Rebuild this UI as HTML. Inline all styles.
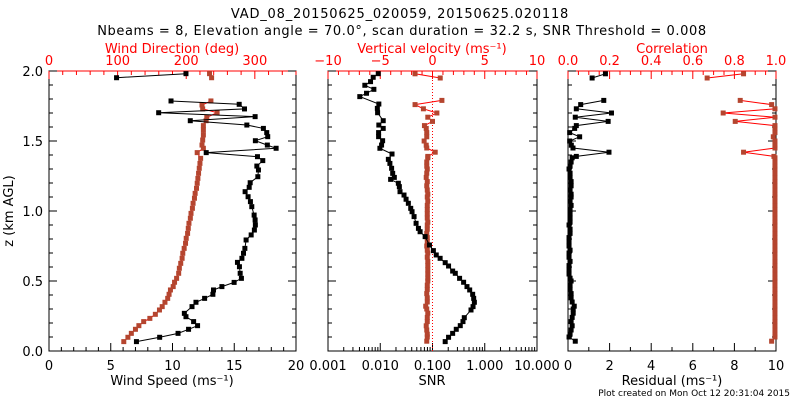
<!DOCTYPE html>
<html><head><meta charset="utf-8"><style>
body{margin:0;background:#fff;}
svg{display:block;font-family:"DejaVu Sans","Liberation Sans",sans-serif;}
</style></head><body>
<svg id="chart" width="800" height="400" viewBox="0 0 800 400" xmlns="http://www.w3.org/2000/svg">
<rect x="0" y="0" width="800" height="400" fill="#fff"/>
<text x="400" y="18" font-size="13" letter-spacing="0.8" text-anchor="middle">VAD_08_20150625_020059, 20150625.020118</text>
<text x="402" y="35" font-size="13" letter-spacing="0.6" text-anchor="middle">Nbeams = 8, Elevation angle = 70.0°, scan duration = 32.2 s, SNR Threshold = 0.008</text>
<text transform="translate(13,211) rotate(-90)" font-size="13" text-anchor="middle">z (km AGL)</text>
<text x="790" y="396" font-size="9" text-anchor="end">Plot created on Mon Oct 12 20:31:04 2015</text>
<g id="g"></g>
</svg>
<script>
// ---- data ----
var wsZ=[0.067,0.098,0.126,0.155,0.181,0.210,0.245,0.269,0.317,0.348,0.376,0.405,0.436,0.460,0.490,0.519,0.555,0.602,0.633,0.662,0.698,0.733,0.793,0.829,0.864,0.900,0.936,0.971,1.031,1.067,1.102,1.138,1.169,1.202,1.245,1.293,1.321,1.360,1.388,1.417,1.448,1.471,1.502,1.531,1.560,1.590,1.614,1.645,1.674,1.702,1.729,1.762,1.786,null,1.952,1.981];
var windSpeed=[7.08,8.96,10.45,11.30,12.03,11.71,11.09,10.96,11.58,11.90,12.60,13.27,13.32,14.0,14.99,15.58,15.48,15.42,15.26,15.62,15.75,15.86,15.96,16.37,16.63,16.71,16.69,16.61,16.42,16.31,16.12,15.88,16.21,16.29,16.91,16.96,16.83,17.31,16.88,12.73,18.39,17.68,16.71,17.71,17.63,17.36,16.02,11.44,16.69,8.88,15.83,15.40,9.88,null,5.47,11.09];
var wdZ=[0.067,0.098,0.126,0.155,0.181,0.210,0.233,0.262,0.293,0.317,0.348,0.376,0.405,0.436,0.460,0.491,0.519,0.555,0.591,0.626,0.662,0.698,0.733,0.769,0.805,0.840,0.876,0.912,0.948,0.983,1.019,1.055,1.091,1.126,1.162,1.198,1.233,1.269,1.305,1.340,1.376,1.417,1.448,1.471,1.507,1.543,1.579,1.610,1.645,1.669,1.702,1.729,1.757,1.786,null,1.952,1.981];
var windDir=[109,115,120,126,131,138,147,155,161,165,169,173,175,177,181,183,186,189,190,192,194,195,197,199,200,202,203,204,206,207,209,210,212,213,215,216,217,218,219,220,221,216,225,223,224,225,225,225,229,230,245,224,223,236,null,237,234];
var snrZ=[0.067,0.098,0.126,0.155,0.181,0.210,0.238,0.293,0.317,0.348,0.376,0.405,0.436,0.460,0.491,0.519,0.555,0.571,0.607,0.631,0.662,0.686,0.717,0.757,0.817,0.852,0.876,0.912,0.960,0.995,1.019,1.055,1.084,1.114,1.138,1.174,1.198,1.226,1.240,1.269,1.305,1.340,1.369,1.407,1.448,1.471,1.502,1.531,1.560,1.590,1.614,1.645,1.702,1.733,1.764,1.817,1.841,1.869,1.898,1.924,1.955,1.981];
var snr=[0.175,0.203,0.243,0.285,0.340,0.383,0.406,0.546,0.597,0.633,0.614,0.587,0.515,0.457,0.394,0.330,0.273,0.243,0.203,0.175,0.140,0.118,0.104,0.0875,0.0723,0.0579,0.0538,0.0485,0.0444,0.0406,0.0383,0.0345,0.0312,0.0285,0.0239,0.0232,0.0222,0.0158,0.0186,0.0173,0.0165,0.0153,0.0143,0.0168,0.00985,0.0106,0.0111,0.0093,0.0093,0.0114,0.0094,0.0114,0.0089,0.0088,0.0094,0.00406,0.00546,0.00755,0.00507,0.00652,0.00733,0.00916];
var lowZ=[0.07,0.10,0.12,0.15,0.18,0.21,0.24,0.27,0.30,0.32,0.35,0.38,0.41,0.44,0.47,0.50,0.52,0.55,0.58,0.61,0.64,0.67,0.70,0.72,0.75,0.78,0.81,0.84,0.87,0.90,0.92,0.95,0.98,1.01,1.04,1.07,1.10,1.12,1.15,1.18,1.21,1.24,1.27,1.30,1.32,1.35,1.38];
var upZ=[1.39,1.42,1.45,1.47,1.50,1.53,1.56,1.59,1.61,1.64,1.67,1.70,1.73,1.76,1.79,null,1.95,1.98];
var wLow=[-0.55,-0.5,-0.5,-0.55,-0.6,-0.5,-0.5,-0.45,-0.55,-0.65,-0.5,-0.5,-0.55,-0.5,-0.5,-0.45,-0.45,-0.45,-0.45,-0.45,-0.45,-0.5,-0.45,-0.5,-0.55,-0.5,-0.5,-0.55,-0.5,-0.5,-0.45,-0.5,-0.5,-0.5,-0.5,-0.45,-0.5,-0.45,-0.5,-0.55,-0.5,-0.6,-0.55,-0.5,-0.55,-0.55,-0.45];
var wUp=[-0.45,0.26,-0.55,-0.6,-0.8,-0.55,-0.55,-0.6,-0.77,0.0,-0.45,0.42,-0.87,-1.67,0.9,null,0.74,-1.67];
var resLow=[0.35,0.05,0.1,0.15,0.2,0.15,0.2,0.25,0.25,0.3,0.2,0.15,0.15,0.1,0.1,0.15,0.1,0.05,0.05,0.05,0.1,0.05,0.05,0.1,0.05,0.05,0.05,0.1,0.1,0.05,0.1,0.1,0.1,0.1,0.15,0.1,0.15,0.15,0.1,0.15,0.15,0.1,0.1,0.05,0.1,0.15,0.2];
var resUp=[0.4,1.97,0.24,0.16,0.08,0.56,0.08,0.32,0.4,1.93,0.35,2.09,0.4,0.61,1.72,null,1.16,1.8];
var corLow=[0.979,0.995,0.995,0.995,0.995,0.995,0.995,0.995,0.995,0.995,0.995,0.995,0.995,0.995,0.995,0.995,0.995,0.995,0.995,0.995,0.995,0.995,0.995,0.995,0.995,0.995,0.995,0.995,0.995,0.995,0.995,0.995,0.995,0.995,0.995,0.995,0.995,0.995,0.995,0.995,0.995,0.995,0.995,0.995,0.995,0.995,0.995];
var corUp=[0.99,0.844,0.995,0.995,0.995,0.987,0.995,0.995,0.995,0.804,0.995,0.746,0.995,0.979,0.828,null,0.669,0.844];
var wsTicks=["0","5","10","15","20"], wdTicks=["0","100","200","300"], wTicks=["−10","−5","0","5","10"];
var snrTicks=["0.001","0.010","0.100","1.000","10.000"], resTicks=["0","2","4","6","8","10"], corTicks=["0.0","0.2","0.4","0.6","0.8","1.0"];
var zTicks=["0.0","0.5","1.0","1.5","2.0"];

// ---- drawing ----
var NS="http://www.w3.org/2000/svg", G=document.getElementById('g');
var TOP=71, BOT=351, RED="#ff0000", BR="#b5452f";
function yS(z){return BOT-(z/2)*(BOT-TOP);}
function el(t,a,p){var e=document.createElementNS(NS,t);for(var k in a)e.setAttribute(k,a[k]);(p||G).appendChild(e);return e;}
function txt(x,y,s,col,size,anchor){var t=el('text',{x:x,y:y,'font-size':size||13,fill:col||'#000','text-anchor':anchor||'middle'});t.textContent=s;return t;}
var panels=[{l:49,r:296},{l:328,r:537},{l:568,r:776}];
panels.forEach(function(p,i){
  var b=el('rect',{x:p.l,y:TOP,width:p.r-p.l,height:BOT-TOP,fill:'none',stroke:'#000','stroke-width':1});
  
  
  el('line',{x1:p.l,y1:TOP,x2:p.r,y2:TOP,stroke:RED});
  for(var z=0;z<=2.0001;z+=0.1){var maj=Math.abs(z*2-Math.round(z*2))<1e-6;var L=maj?8:4;var y=yS(z);
    el('line',{x1:p.l,y1:y,x2:p.l+L,y2:y,stroke:'#000'});el('line',{x1:p.r,y1:y,x2:p.r-L,y2:y,stroke:'#000'});}
});
zTicks.forEach(function(s,i){var t=txt(43,yS(i*0.5)+5,s,'#000',13,'end');
  
  });
function linTicks(p,min,max,majStep,minStep,labels,topAxis,col){
  var sc=function(v){return p.l+(v-min)/(max-min)*(p.r-p.l);};
  for(var v=min;v<=max+1e-9;v+=minStep){var maj=Math.abs(v/majStep-Math.round(v/majStep))<1e-6;var L=maj?8:4;var x=sc(v);
    if(topAxis)el('line',{x1:x,y1:TOP,x2:x,y2:TOP+L,stroke:col});else el('line',{x1:x,y1:BOT,x2:x,y2:BOT-L,stroke:col});}
  labels.forEach(function(s,i){var t=txt(sc(min+i*majStep),topAxis?65:370,s,col,13);
    
    });
  return sc;
}
var P1=panels[0],P2=panels[1],P3=panels[2];
var xWS=linTicks(P1,0,20,5,1,wsTicks,false,'#000');
var xWD=linTicks(P1,0,360,100,20,wdTicks,true,RED);
var xW=linTicks(P2,-10,10,5,1,wTicks,true,RED);
var xRes=linTicks(P3,0,10,2,1,resTicks,false,'#000');
var xCor=linTicks(P3,0,1,0.2,0.05,corTicks,true,RED);
function xSNR(v){return P2.l+(Math.log10(v)+3)/4*(P2.r-P2.l);}
for(var d=-3;d<1;d++){for(var m=1;m<10;m++){var x=xSNR(m*Math.pow(10,d));el('line',{x1:x,y1:BOT,x2:x,y2:BOT-(m==1?8:4),stroke:'#000'});}}
el('line',{x1:P2.r,y1:BOT,x2:P2.r,y2:BOT-8,stroke:'#000'});
snrTicks.forEach(function(s,i){var t=txt(P2.l+i*(P2.r-P2.l)/4,370,s,'#000',13);
  
  });
[[172,385,'Wind Speed (ms⁻¹)','#000','x-axis-title-wind-speed'],[172,53,'Wind Direction (deg)',RED,'top-axis-title-wind-direction'],
 [432,385,'SNR','#000','x-axis-title-snr'],[432,53,'Vertical velocity (ms⁻¹)',RED,'top-axis-title-vertical-velocity'],
 [672,385,'Residual (ms⁻¹)','#000','x-axis-title-residual'],[672,53,'Correlation',RED,'top-axis-title-correlation']].forEach(function(a){
  var t=txt(a[0],a[1],a[2],a[3],13);
  
  });
var zl=el('line',{x1:xW(0),y1:TOP,x2:xW(0),y2:BOT,stroke:RED,'stroke-dasharray':'1,2'});


function series(xs,zs,xf,lc,mc,name){
  var d='',pen=false;
  for(var i=0;i<xs.length;i++){if(xs[i]==null||zs[i]==null){pen=false;continue;}
    d+=(pen?'L':'M')+xf(xs[i]).toFixed(1)+' '+yS(zs[i]).toFixed(1);pen=true;}
  var g=el('g',{});
  
  
  el('path',{d:d,fill:'none',stroke:lc,'stroke-width':1},g);
  for(var j=0;j<xs.length;j++){if(xs[j]==null||zs[j]==null)continue;
    var r=el('rect',{x:xf(xs[j])-2.5,y:yS(zs[j])-2.5,width:5,height:5,fill:mc},g);
    
    }
}
var vvZ=lowZ.concat(upZ), vv=wLow.concat(wUp), res=resLow.concat(resUp), cor=corLow.concat(corUp);
series(windDir,wdZ,xWD,RED,BR,'wind-direction-series');
series(windSpeed,wsZ,xWS,'#000','#000','wind-speed-series');
series(vv,vvZ,xW,RED,BR,'vertical-velocity-series');
series(snr,snrZ,xSNR,'#000','#000','snr-series');
series(cor,vvZ,xCor,RED,BR,'correlation-series');
series(res,vvZ,xRes,'#000','#000','residual-series');
</script>
</body></html>
